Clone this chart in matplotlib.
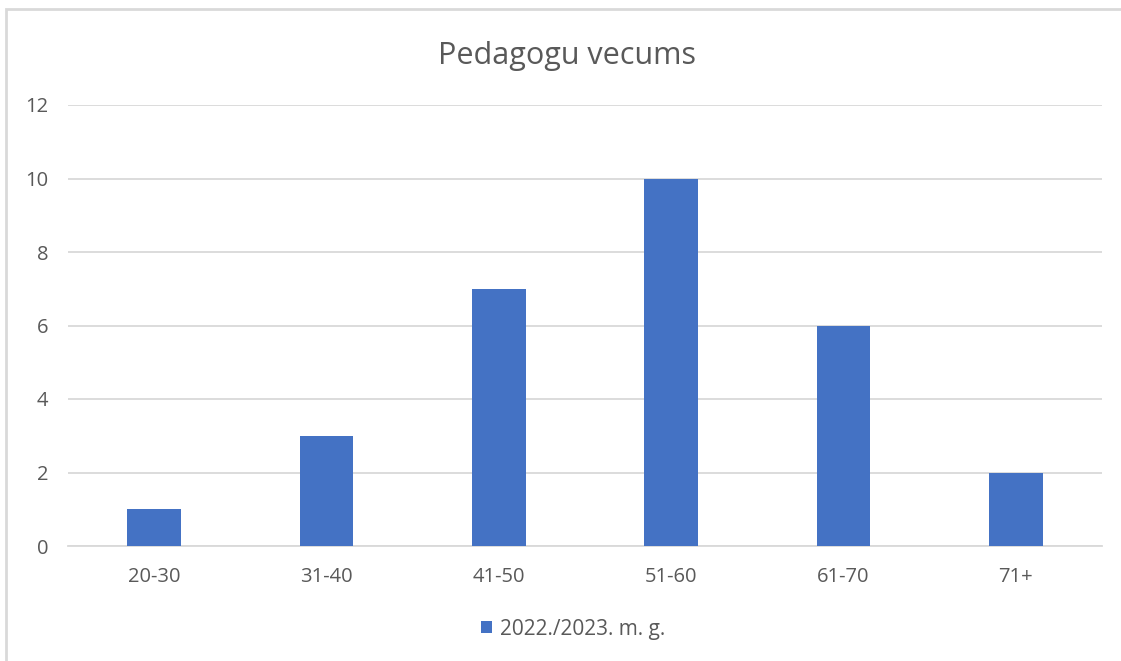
import matplotlib.pyplot as plt
from matplotlib.patches import Rectangle

# dati
categories = ["20-30", "31-40", "41-50", "51-60", "61-70", "71+"]
values = [1, 3, 7, 10, 6, 2]
series_name = "2022./2023. m. g."
title = "Pedagogu vecums"
yticks = [0, 2, 4, 6, 8, 10, 12]

plt.rcParams['font.family'] = ['Open Sans', 'DejaVu Sans']
text_color = "#595959"
bar_color = "#4472C4"
grid_color = "#D9D9D9"

fig = plt.figure(figsize=(11.21, 6.61), dpi=100)
ax = fig.add_axes([68 / 1121, 1 - 546 / 661, (1102 - 68) / 1121, (546 - 105) / 661])

x = range(len(categories))
ax.bar(x, values, width=0.31, color=bar_color, label=series_name, zorder=3)

ax.set_xlim(-0.5, len(categories) - 0.5)
ax.set_ylim(0, 12)
ax.set_yticks(yticks)
ax.set_xticks(list(x))
ax.set_xticklabels(categories)

ax.grid(axis='y', color=grid_color, linewidth=1.3, zorder=0)
for s in ["top", "right", "left"]:
    ax.spines[s].set_visible(False)
ax.spines["bottom"].set_color(grid_color)
ax.spines["bottom"].set_linewidth(1.3)
ax.tick_params(axis='both', length=0, colors=text_color, labelsize=14.5)
ax.tick_params(axis='y', pad=14)
ax.tick_params(axis='x', pad=15)

fig.text(0.506, 1 - 56 / 661, title, ha='center', va='center', fontsize=22, color=text_color)

leg = fig.legend(loc='center', bbox_to_anchor=(0.511, 1 - 629 / 661), frameon=False,
                 fontsize=15, handlelength=0.55, handleheight=0.55, handletextpad=0.35)
for t in leg.get_texts():
    t.set_color(text_color)

# rāmis
fig.patches.append(Rectangle((5.5 / 1121, -0.1), 1.2, 1 - 8.5 / 661 + 0.1, transform=fig.transFigure,
                             fill=False, edgecolor="#D9D9D9", linewidth=2))

fig.savefig("out.png", dpi=100)
